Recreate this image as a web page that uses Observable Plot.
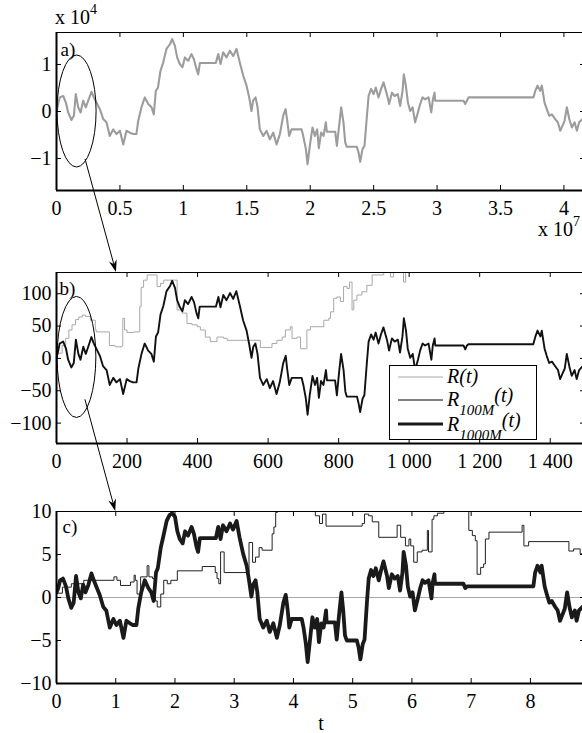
<!DOCTYPE html>
<html><head><meta charset="utf-8">
<script src="https://cdn.jsdelivr.net/npm/d3@7"></script>
<script src="https://cdn.jsdelivr.net/npm/@observablehq/plot@0.6"></script>
</head><body style="margin:0;padding:0;background:#fff;overflow:hidden">
<div id="fig" style="position:relative;width:582px;height:733px;overflow:hidden;font-family:'Liberation Serif'"></div>
<script>
// ---------- Panel a: R(t), t in units of 1e7, R in units of 1e4 ----------
const aT = [0,0.013,0.026,0.053,0.074,0.092,0.118,0.137,0.152,0.171,0.19,0.21,0.231,0.25,0.276,0.294,0.315,0.342,0.368,0.394,0.42,0.447,0.473,0.5,0.526,0.552,0.578,0.604,0.63,0.644,0.67,0.696,0.723,0.749,0.767,0.783,0.8,0.82,0.841,0.867,0.894,0.912,0.933,0.951,0.972,0.993,1.012,1.038,1.064,1.083,1.104,1.117,1.13,1.256,1.275,1.293,1.314,1.34,1.367,1.393,1.419,1.445,1.472,1.498,1.519,1.537,1.55,1.569,1.585,1.603,1.63,1.656,1.682,1.708,1.735,1.761,1.787,1.806,1.819,1.834,1.853,1.932,1.945,1.966,1.979,1.997,2.018,2.037,2.055,2.068,2.086,2.105,2.123,2.131,2.197,2.21,2.228,2.244,2.262,2.276,2.289,2.368,2.381,2.394,2.412,2.428,2.447,2.46,2.48,2.499,2.517,2.538,2.559,2.578,2.604,2.622,2.644,2.665,2.69,2.709,2.728,2.738,2.754,2.77,2.788,2.807,2.827,2.849,2.867,2.885,2.906,2.933,2.954,2.967,2.98,2.985,3.209,3.222,3.235,3.248,3.76,3.774,3.792,3.813,3.826,3.847,3.865,3.884,3.905,3.931,3.952,3.971,3.989,4.005,4.023,4.042,4.063,4.084,4.102,4.12,4.147,4.17];
const aR = [0,0.16,0.30,0.33,0.19,-0.02,-0.18,-0.09,0.37,0.09,-0.02,0.23,0.09,0.23,0.42,0.30,0.19,0.05,-0.16,-0.23,-0.52,-0.38,-0.48,-0.41,-0.70,-0.41,-0.45,-0.48,-0.48,-0.20,0.09,0.30,0.16,0.09,-0.06,0.44,0.51,0.87,1.04,1.33,1.43,1.54,1.40,1.15,1.01,0.94,1.15,1.08,1.22,1.11,0.90,0.79,1.03,1.03,1.22,1.01,1.26,1.15,1.29,1.18,1.33,1.04,0.76,0.55,0.30,0.01,0.23,0.30,0.09,-0.38,-0.52,-0.41,-0.59,-0.45,-0.70,-0.48,-0.09,0.05,-0.20,-0.52,-0.38,-0.38,-0.52,-0.80,-1.12,-0.73,-0.34,-0.52,-0.38,-0.78,-0.45,-0.52,-0.23,-0.43,-0.43,-0.73,-0.30,0.09,-0.23,-0.66,-0.75,-0.75,-0.87,-1.07,-0.80,-0.73,-0.09,0.33,0.48,0.37,0.51,0.30,0.48,0.62,0.37,0.16,0.40,0.33,0.37,0.12,0.44,0.79,0.55,0.19,0.01,0.09,-0.23,-0.02,0.16,0.30,0.26,0.30,-0.02,0.26,0.40,0.23,0.23,0.16,0.23,0.30,0.30,0.44,0.55,0.44,0.55,0.19,0.05,-0.09,-0.06,-0.16,-0.23,-0.41,-0.30,-0.20,0.09,-0.16,-0.34,-0.23,-0.41,-0.23,-0.16,-0.25];

// ---------- Panel b ----------
const bGrayT = [0,14,16,26,35,44,54,63,73,82,96,110,113,148,150,166,186,188,193,200,219,236,240,247,257,281,285,295,304,335,342,356,370,384,399,408,422,436,455,474,484,569,578,606,611,625,640,649,663,668,682,692,710,720,758,772,777,786,795,805,814,824,831,838,843,852,866,880,895,928,947,956,984,990,1046,1070];
const bGrayR = [8,8,20,31,44,52,60,64,67,65,59,44,41,41,20,18,20,62,44,40,41,80,110,121,129,129,111,116,121,121,75,70,54,52,49,44,33,26,33,31,28,28,17,17,23,28,33,44,49,31,33,15,44,49,59,62,72,93,95,88,111,108,118,75,90,98,103,113,129,135,126,133,118,133,133,160];
const bT = [0,5,9,19,27,33,42,49,55,62,68,76,83,90,99,106,113,123,132,142,151,161,170,180,189,199,208,217,227,232,241,250,260,269,276,282,288,295,303,312,322,328,336,342,350,357,364,373,383,390,397,402,406,452,459,465,473,482,492,501,510,520,529,539,546,553,558,564,570,577,586,596,605,614,624,633,643,650,654,660,667,695,700,707,712,718,726,733,739,744,750,757,764,767,790,795,801,807,814,819,823,852,856,861,868,873,880,885,892,899,905,913,920,927,937,943,951,959,968,974,981,985,991,996,1003,1010,1017,1025,1031,1038,1045,1055,1063,1067,1072,1074,1154,1159,1164,1168,1352,1358,1364,1372,1376,1384,1390,1397,1405,1414,1422,1428,1435,1441,1447,1454,1461,1469,1475,1482,1492,1500];
const bR = [0,12,23,26,15,-2,-14,-7,29,7,-2,18,7,18,33,23,15,4,-12,-18,-41,-30,-37,-32,-55,-32,-35,-37,-37,-16,7,23,12,7,-5,34,40,68,81,104,112,120,109,90,79,73,90,84,95,87,70,62,80,80,95,79,98,90,101,92,104,81,59,43,23,1,18,23,7,-30,-41,-32,-46,-35,-55,-37,-7,4,-16,-41,-30,-30,-41,-62,-87,-57,-27,-41,-30,-61,-35,-41,-18,-34,-34,-57,-23,7,-18,-51,-59,-59,-68,-83,-62,-57,-7,26,37,29,40,23,37,48,29,12,31,26,29,9,34,62,43,15,1,7,-18,-2,12,23,20,23,-2,20,31,20,20,14,20,22,22,34,43,34,43,15,4,-7,-5,-12,-18,-32,-23,-16,7,-12,-27,-18,-32,-18,-12,-20];

// ---------- Panel c ----------
const cGrayT = [0,8.93];
const cGrayR = [0,0];
const cStepT = [0,0.1,0.25,0.46,0.97,1.02,1.08,1.25,1.31,1.33,1.36,1.42,1.53,1.56,1.62,1.67,1.70,1.76,1.81,1.87,1.93,2.04,2.46,2.68,2.71,2.74,2.77,2.83,3.25,3.31,3.36,3.42,3.47,3.64,3.67,3.70,3.73,4.37,4.44,4.49,4.55,5.16,5.20,5.27,5.33,5.44,5.75,5.81,5.89,5.95,5.98,6.03,6.09,6.17,6.26,6.28,6.34,6.37,6.43,6.54,6.96,7.02,7.07,7.10,7.16,7.21,7.24,7.30,7.86,7.89,7.97,8.65,8.73,8.84,8.93];
const cStepR = [0.5,1.2,1.6,2.0,2.4,2.0,1.4,1.8,2.6,2.0,0.4,2.4,3.7,2.4,2.2,-0.4,-1.1,0.4,2.0,1.6,2.0,3.1,3.6,2.9,2.2,1.6,5.3,2.9,6.4,4.1,4.7,5.8,5.5,7.4,8.2,9.9,11,9.5,8.6,9.7,8.3,8.6,9.7,9.5,8.8,7.0,8.4,7.0,6.0,6.8,6.0,4.1,5.3,5.5,7.8,5.3,9.1,9.5,9.8,10,7.8,7.2,6.6,2.7,3.5,3.9,6.8,7.6,8.4,6.0,6.5,5.4,5.65,5.1,5.1];
const cT = [0,0.03,0.06,0.11,0.16,0.20,0.25,0.29,0.33,0.37,0.41,0.45,0.49,0.54,0.59,0.63,0.67,0.73,0.79,0.84,0.90,0.96,1.01,1.07,1.13,1.18,1.24,1.29,1.35,1.38,1.43,1.49,1.55,1.60,1.64,1.68,1.71,1.76,1.80,1.86,1.91,1.95,2.00,2.04,2.08,2.13,2.17,2.22,2.28,2.32,2.36,2.39,2.42,2.69,2.73,2.77,2.81,2.87,2.93,2.98,3.04,3.09,3.15,3.21,3.25,3.29,3.32,3.36,3.39,3.43,3.49,3.55,3.60,3.66,3.72,3.77,3.83,3.87,3.90,3.93,3.97,4.14,4.17,4.21,4.24,4.28,4.32,4.36,4.40,4.43,4.47,4.51,4.55,4.56,4.70,4.73,4.77,4.81,4.84,4.87,4.90,5.07,5.10,5.13,5.17,5.20,5.24,5.27,5.31,5.35,5.39,5.44,5.48,5.52,5.58,5.61,5.66,5.71,5.76,5.80,5.84,5.86,5.90,5.93,5.97,6.01,6.05,6.10,6.14,6.18,6.22,6.28,6.33,6.35,6.38,6.39,6.87,6.90,6.93,6.96,8.05,8.08,8.12,8.17,8.19,8.24,8.28,8.32,8.36,8.42,8.46,8.50,8.54,8.58,8.62,8.66,8.70,8.75,8.78,8.82,8.88,8.93];
const cR = [0.6,1.1,2.0,2.2,1.3,-0.1,-1.2,-0.6,2.5,0.6,-0.1,1.5,0.6,1.5,2.8,2.0,1.3,0.3,-1.1,-1.5,-3.5,-2.5,-3.2,-2.7,-4.7,-2.7,-3.0,-3.2,-3.2,-1.3,0.6,2.0,1.1,0.6,-0.4,2.9,3.4,5.8,7.0,8.9,9.6,9.8,9.4,7.7,6.8,6.3,7.7,7.2,8.2,7.4,6.0,5.3,6.9,6.9,8.2,6.8,8.4,7.7,8.6,7.9,8.9,7.0,5.1,3.7,2.0,0.1,1.5,2.0,0.6,-2.5,-3.5,-2.7,-4.0,-3.0,-4.7,-3.2,-0.6,0.3,-1.3,-3.5,-2.5,-2.5,-3.5,-5.4,-7.5,-4.9,-2.3,-3.5,-2.5,-5.2,-3.0,-3.5,-1.5,-2.9,-2.9,-4.9,-2.0,0.6,-1.5,-4.4,-5.0,-5.0,-5.8,-7.2,-5.4,-4.9,-0.6,2.2,3.2,2.5,3.4,2.0,3.2,4.2,2.5,1.1,2.7,2.2,2.5,0.8,2.9,5.3,3.7,1.3,0.1,0.6,-1.5,-0.1,1.1,2.0,1.7,2.0,-0.1,1.7,2.7,1.6,1.6,1.1,1.3,1.3,1.3,2.9,3.7,2.9,3.7,1.3,0.3,-0.6,-0.4,-1.1,-1.5,-2.7,-2.0,-1.3,0.6,-1.1,-2.3,-1.5,-2.7,-1.5,-1.1,-1.7];

// ---------- ticks ----------
const aXTicks = [0,0.5,1,1.5,2,2.5,3,3.5,4];
const aXLabels = ["0","0.5","1","1.5","2","2.5","3","3.5","4"];
const aYTicks = [-1,0,1];
const aYLabels = ["\u22121","0","1"];
const bXTicks = [0,200,400,600,800,1000,1200,1400];
const bXLabels = ["0","200","400","600","800","1 000","1 200","1 400"];
const bYTicks = [-100,-50,0,50,100];
const bYLabels = ["\u2212100","\u221250","0","50","100"];
const cXTicks = [0,1,2,3,4,5,6,7,8];
const cXLabels = ["0","1","2","3","4","5","6","7","8"];
const cYTicks = [-10,-5,0,5,10];
const cYLabels = ["\u221210","\u22125","0","5","10"];

const legendSubs = ["", "100M", "1000M"];
const legendColors = ["#aaaaaa", "#000000", "#1a1a1a"];
const legendWidths = [1, 1, 3.2];

const FONT = "'Liberation Serif'";
const fig = document.getElementById("fig");

function serifAll(root) {
  root.querySelectorAll("text, tspan").forEach(t => {
    t.setAttribute("font-family", "Liberation Serif");
    t.style.setProperty("font-family", FONT, "important");
  });
}

function makePanel(o) {
  const W = 590, mL = 56, mR = 5, PW = W - mL - mR, H = o.height - o.mTop - o.mBottom;
  const fmt = (ticks, labels) => d => labels[ticks.indexOf(d)];
  const p = Plot.plot({
    width: W, height: o.height,
    marginLeft: mL, marginRight: mR, marginTop: o.mTop, marginBottom: o.mBottom,
    style: {fontSize: "20px", background: "none", overflow: "visible"},
    x: {domain: o.xDomain, ticks: o.xTicks, tickFormat: fmt(o.xTicks, o.xLabels), tickSize: 0, tickPadding: 10, label: null},
    y: {domain: o.yDomain, ticks: o.yTicks, tickFormat: fmt(o.yTicks, o.yLabels), tickSize: 0, tickPadding: 5, label: null},
    marks: [
      ...o.marks,
      Plot.tickX(o.xTicks, {x: d => d, insetTop: H - 5, stroke: "black"}),
      Plot.tickX(o.xTicks, {x: d => d, insetBottom: H - 5, stroke: "black"}),
      Plot.tickY(o.yTicks, {y: d => d, insetRight: PW - 5, stroke: "black"}),
      Plot.tickY(o.yTicks, {y: d => d, insetLeft: PW - 5, stroke: "black"}),
      Plot.ruleY([o.yDomain[1]], {stroke: "black", strokeWidth: 1}),
      Plot.ruleY([o.yDomain[0]], {stroke: "black", strokeWidth: 2}),
      Plot.ruleX([o.xDomain[0]], {stroke: "black", strokeWidth: 2}),
      Plot.ruleX([o.xDomain[1]], {stroke: "black", strokeWidth: 1}),
      Plot.text([o.tag], {text: d => d, frameAnchor: "top-left", dx: o.tagDx, dy: o.tagDy, textAnchor: "start", lineAnchor: "top", fontSize: 19, fill: "black"}),
      ...(o.extra || [])
    ]
  });
  p.style.position = "absolute";
  p.style.left = "0px";
  p.style.top = o.top + "px";
  p.style.maxWidth = "none";
  p.style.background = "none";
  p.style.overflow = "visible";
  serifAll(p);
  fig.appendChild(p);
  return p;
}

const pa = makePanel({
  top: 0, height: 240, mTop: 32, mBottom: 50,
  xDomain: [0, 4.17], yDomain: [-1.68, 1.68],
  xTicks: aXTicks, xLabels: aXLabels, yTicks: aYTicks, yLabels: aYLabels,
  tag: "a)", tagDx: 4, tagDy: 10,
  marks: [
    Plot.line(aT, {x: aT, y: aR, stroke: "#9c9c9c", strokeWidth: 2.1, clip: true})
  ]
});

const pb = makePanel({
  top: 240, height: 230, mTop: 32, mBottom: 27,
  xDomain: [0, 1500], yDomain: [-131.5, 132.8],
  xTicks: bXTicks, xLabels: bXLabels, yTicks: bYTicks, yLabels: bYLabels,
  tag: "b)", tagDx: 3, tagDy: 9,
  marks: [
    Plot.line(bGrayT, {x: bGrayT, y: bGrayR, curve: "step-after", stroke: "#a8a8a8", strokeWidth: 1, clip: true}),
    Plot.line(bT, {x: bT, y: bR, stroke: "#111", strokeWidth: 1.9, clip: true})
  ]
});

const pc = makePanel({
  top: 470, height: 263, mTop: 41, mBottom: 50,
  xDomain: [0, 8.93], yDomain: [-10, 10],
  xTicks: cXTicks, xLabels: cXLabels, yTicks: cYTicks, yLabels: cYLabels,
  tag: "c)", tagDx: 6, tagDy: 8,
  marks: [
    Plot.line(cGrayT, {x: cGrayT, y: cGrayR, stroke: "#a8a8a8", strokeWidth: 1, clip: true}),
    Plot.line(cStepT, {x: cStepT, y: cStepR, curve: "step-after", stroke: "#222", strokeWidth: 1, clip: true}),
    Plot.line(cT, {x: cT, y: cR, stroke: "#1a1a1a", strokeWidth: 3.8, strokeLinejoin: "round", clip: true})
  ],
  extra: [
    Plot.text(["t"], {text: d => d, frameAnchor: "bottom", dy: 40, lineAnchor: "middle", fontSize: 20, fill: "black"})
  ]
});

// ---------- overlay: exponents, ellipses, arrows, legend ----------
const ov = d3.select(fig).append("svg")
  .attr("width", 582).attr("height", 733)
  .style("position", "absolute").style("left", "0px").style("top", "0px");

function expo(x, y, exp) {
  const t = ov.append("text").attr("x", x).attr("y", y).attr("font-size", 20).attr("fill", "black");
  t.append("tspan").text("x 10");
  t.append("tspan").attr("dy", -10).attr("font-size", 14).text(exp);
}
expo(55, 24, "4");
expo(538, 236, "7");

function mapper(p, top) {
  const sx = p.scale("x").apply, sy = p.scale("y").apply;
  return (x, y) => [sx(x), sy(y) + top];
}
const mA = mapper(pa, 0), mB = mapper(pb, 240), mC = mapper(pc, 470);

function ellipse(m, e) {
  const [x0, y0] = m(e[0], e[2]), [x1, y1] = m(e[1], e[3]);
  ov.append("ellipse")
    .attr("cx", (x0 + x1) / 2).attr("cy", (y0 + y1) / 2)
    .attr("rx", Math.abs(x1 - x0) / 2).attr("ry", Math.abs(y1 - y0) / 2)
    .attr("fill", "none").attr("stroke", "black").attr("stroke-width", 1);
}
function arrow(p1, p2) {
  const [x1, y1] = p1, [x2, y2] = p2;
  const a = Math.atan2(y2 - y1, x2 - x1), ux = Math.cos(a), uy = Math.sin(a), px = -uy, py = ux;
  const L = 12, W = 4;
  ov.append("line").attr("x1", x1).attr("y1", y1).attr("x2", x2 - ux * 7).attr("y2", y2 - uy * 7)
    .attr("stroke", "black").attr("stroke-width", 1);
  const pts = [
    [x2, y2],
    [x2 - ux * L + px * W, y2 - uy * L + py * W],
    [x2 - ux * (L - 4), y2 - uy * (L - 4)],
    [x2 - ux * L - px * W, y2 - uy * L - py * W]
  ];
  ov.append("polygon").attr("points", pts.map(d => d.join(",")).join(" ")).attr("fill", "black");
}
// ellipse extents given in each panel's data units [x0, x1, y0, y1]
ellipse(mA, [0.008, 0.316, -1.19, 1.19]);
ellipse(mB, [3, 113, -92, 95]);
arrow(mA(0.229, -1.02), mB(170, 132.8));
arrow(mB(82, -64), mC(1.0, 10));

// legend
const lg = ov.append("g");
lg.append("rect").attr("x", 389.5).attr("y", 365.5).attr("width", 147).attr("height", 74)
  .attr("fill", "white").attr("stroke", "black").attr("stroke-width", 1);
const rowY = [377, 400, 424];
const baseY = [383, 406, 431];
legendSubs.forEach((sub, i) => {
  lg.append("line").attr("x1", 398).attr("x2", 443).attr("y1", rowY[i]).attr("y2", rowY[i])
    .attr("stroke", legendColors[i]).attr("stroke-width", legendWidths[i]);
  const t = lg.append("text").attr("x", 447).attr("y", baseY[i]).attr("font-size", 20)
    .attr("font-style", "italic").attr("fill", "black");
  t.append("tspan").text("R");
  if (sub) {
    t.append("tspan").attr("dy", 9).attr("font-size", 15).text(sub);
    t.append("tspan").attr("dy", -13).text("(t)");
  } else {
    t.append("tspan").text("(t)");
  }
});
serifAll(ov.node());
</script>
</body></html>
